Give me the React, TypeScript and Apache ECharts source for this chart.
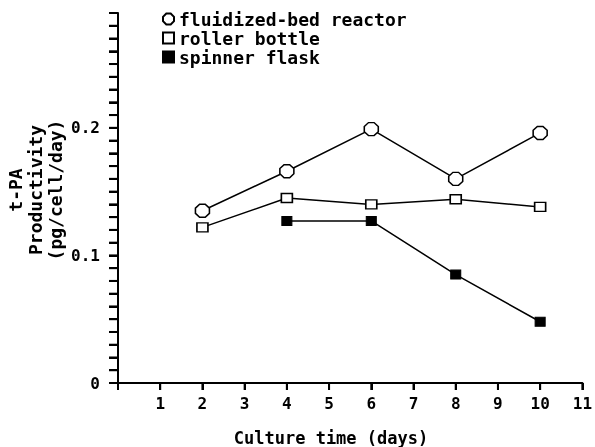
import React, { useEffect, useRef } from "react";
import * as echarts from "echarts";

const seriesNames = ["fluidized-bed reactor", "roller bottle", "spinner flask"];
const fluidizedDays = [2, 4, 6, 8, 10];
const fluidizedValues = [0.135, 0.166, 0.199, 0.160, 0.196];
const rollerDays = [2, 4, 6, 8, 10];
const rollerValues = [0.122, 0.145, 0.140, 0.144, 0.138];
const spinnerDays = [4, 6, 8, 10];
const spinnerValues = [0.127, 0.127, 0.085, 0.048];
const yLabelValues = [0, 0.1, 0.2];
const xTickValues = [1, 2, 3, 4, 5, 6, 7, 8, 9, 10, 11];
const yTickStep = 0.01;
const yTickCount = 30; // 0 .. 0.29
const yTitleLines = ["t-PA", "Productivity", "(pg/cell/day)"];
const xTitle = "Culture time (days)";

const FONT = "'DejaVu Sans Mono', monospace";
const OCTAGON = "path://M3,0 L7,0 L10,3 L10,7 L7,10 L3,10 L0,7 L0,3 Z";

export default function App() {
  const ref = useRef<HTMLDivElement>(null);
  useEffect(() => {
    if (!ref.current) return;
    const chart = echarts.init(ref.current, null, { renderer: "svg" });
    const zip = (xs: number[], ys: number[]) => xs.map((x, i) => [x, ys[i]]);
    const yTicks: number[] = [];
    for (let i = 0; i < yTickCount; i++) yTicks.push(+(i * yTickStep).toFixed(2));
    const texts: any[] = [
      ...yTitleLines.map((t, i) => ({
        type: "text",
        x: 15 + i * 20,
        y: 190,
        rotation: Math.PI / 2,
        style: {
          text: t,
          fontFamily: FONT,
          fontWeight: "bold",
          fontSize: 18,
          fill: "#000",
          align: "center",
          verticalAlign: "middle",
        },
      })),
      {
        type: "text",
        x: 331,
        y: 438,
        style: {
          text: xTitle,
          fontFamily: FONT,
          fontWeight: "bold",
          fontSize: 17,
          fill: "#000",
          align: "center",
          verticalAlign: "middle",
        },
      },
    ];
    chart.setOption({
      animation: false,
      grid: { left: 118, right: 12, top: 13, bottom: 64 },
      legend: {
        orient: "vertical",
        left: 162,
        top: 10,
        padding: 0,
        itemWidth: 11,
        itemHeight: 11,
        itemGap: 1,
        textStyle: { fontFamily: FONT, fontWeight: "bold", fontSize: 18, color: "#000", lineHeight: 18 },
        data: [
          { name: seriesNames[0], icon: OCTAGON },
          { name: seriesNames[1], icon: "rect" },
          { name: seriesNames[2], icon: "rect" },
        ],
      },
      xAxis: {
        type: "value",
        min: 0,
        max: 11,
        interval: 1,
        splitLine: { show: false },
        axisLine: { show: true, lineStyle: { color: "#000", width: 2 } },
        axisTick: { show: true, length: 7, lineStyle: { color: "#000", width: 2 } },
        axisLabel: {
          margin: 12,
          color: "#000",
          fontFamily: FONT,
          fontWeight: "bold",
          fontSize: 16,
          formatter: (v: number) => (v === 0 ? "" : String(v)),
        },
      },
      yAxis: {
        type: "value",
        min: 0,
        max: 0.29,
        interval: 0.01,
        splitLine: { show: false },
        axisLine: { show: true, lineStyle: { color: "#000", width: 2 } },
        axisTick: { show: true, length: 9, lineStyle: { color: "#000", width: 2 } },
        axisLabel: {
          margin: 18,
          color: "#000",
          fontFamily: FONT,
          fontWeight: "bold",
          fontSize: 16,
          formatter: (v: number) => {
            const hit = yLabelValues.find((l) => Math.abs(l - v) < 1e-6);
            return hit === undefined ? "" : String(hit);
          },
        },
      },
      graphic: texts,
      series: [
        {
          name: seriesNames[0],
          type: "line",
          data: zip(fluidizedDays, fluidizedValues),
          symbol: OCTAGON,
          symbolSize: [14, 13],
          lineStyle: { color: "#000", width: 1.5 },
          itemStyle: { color: "#fff", borderColor: "#000", borderWidth: 1.5 },
          z: 3,
        },
        {
          name: seriesNames[1],
          type: "line",
          data: zip(rollerDays, rollerValues),
          symbol: "rect",
          symbolSize: [11, 9],
          lineStyle: { color: "#000", width: 1.5 },
          itemStyle: { color: "#fff", borderColor: "#000", borderWidth: 1.5 },
          z: 3,
        },
        {
          name: seriesNames[2],
          type: "line",
          data: zip(spinnerDays, spinnerValues),
          symbol: "rect",
          symbolSize: [10, 9],
          lineStyle: { color: "#000", width: 1.5 },
          itemStyle: { color: "#000", borderColor: "#000", borderWidth: 1 },
          z: 3,
        },
      ],
    });
    try {
      const ticks: any[] = [];
      yTicks.forEach((v) => {
        const p = chart.convertToPixel({ gridIndex: 0 }, [0, v]) as number[];
        ticks.push({
          type: "line",
          z: 10,
          shape: { x1: p[0] - 9, y1: p[1], x2: p[0], y2: p[1] },
          style: { stroke: "#000", lineWidth: 2 },
        });
      });
      xTickValues.forEach((v) => {
        const p = chart.convertToPixel({ gridIndex: 0 }, [v, 0]) as number[];
        ticks.push({
          type: "line",
          z: 10,
          shape: { x1: p[0], y1: p[1], x2: p[0], y2: p[1] + 7 },
          style: { stroke: "#000", lineWidth: 2 },
        });
      });
      chart.setOption({ graphic: [...texts, ...ticks] });
    } catch (e) {
      // ticks are decorative
    }
    return () => chart.dispose();
  }, []);
  return <div ref={ref} style={{ position: "fixed", left: 0, top: 0, width: 595, height: 447 }} />;
}
